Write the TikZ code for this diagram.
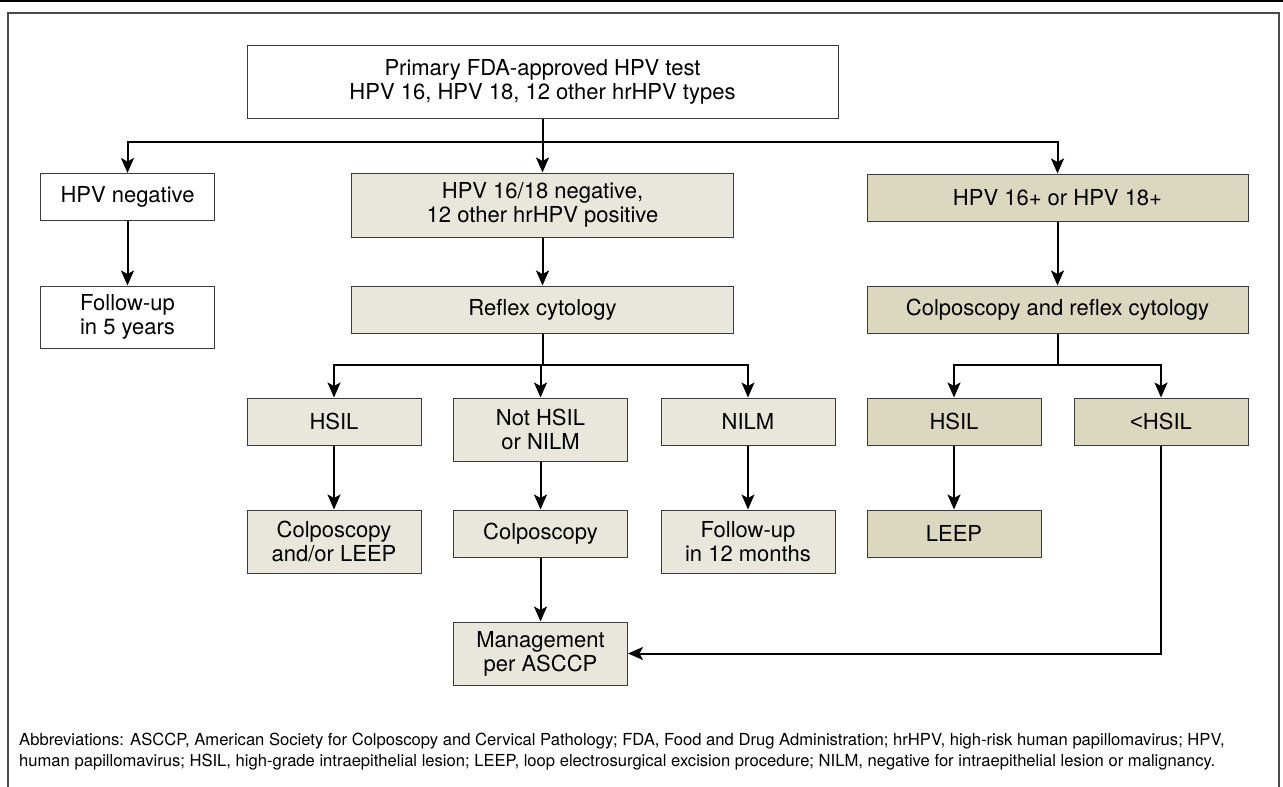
\documentclass[tikz,border=0pt]{standalone}
\usepackage{fontspec}
\setmainfont{TeX Gyre Heros}
\newfontfamily\symfont{Liberation Sans}
\usetikzlibrary{arrows.meta}
\definecolor{lightfill}{HTML}{E9E7DB}
\definecolor{darkfill}{HTML}{DCD7BF}
\definecolor{edgegray}{HTML}{3A3A3A}
\definecolor{framegray}{HTML}{4A4A4A}
\begin{document}
\begin{tikzpicture}[x=1pt,y=-1pt,
  box/.style={draw=edgegray, line width=1pt, align=center, inner sep=0pt,
    minimum width=174pt, minimum height=47pt, font=\fontsize{22}{24}\selectfont},
  wbox/.style={box, fill=white},
  lbox/.style={box, fill=lightfill},
  dbox/.style={box, fill=darkfill},
  ln/.style={line width=2pt},
  arr/.style={line width=2pt, -{Stealth[length=15pt,width=13pt,inset=3.5pt]}},
  note/.style={anchor=base west, inner sep=0pt, font=\fontsize{16.6}{18}\selectfont}]
\useasboundingbox (0,0) rectangle (1283,787);
% frame
\draw[line width=1.5pt] (0,0.75) -- (1283,0.75);
\draw[draw=framegray, line width=1.3pt] (8,787) -- (8,13) -- (1279,13) -- (1279,787);
% nodes
\node[wbox, minimum width=591pt, minimum height=73pt] (top) at (542.5,81.5) {Primary FDA-approved HPV test\\HPV 16, HPV 18, 12 other hrHPV types};
\node[wbox] (neg) at (127.5,197) {HPV negative};
\node[wbox, minimum height=62pt] (fu5) at (127.5,317) {Follow-up\\in 5 years};
\node[lbox, minimum width=382pt, minimum height=64pt] (mid) at (542.5,205) {HPV 16/18 negative,\\12 other hrHPV positive};
\node[lbox, minimum width=382pt] (reflex) at (542.5,309.5) {Reflex cytology};
\node[dbox, minimum width=381pt] (pos) at (1057.5,197.5) {HPV 16+ or HPV 18+};
\node[dbox, minimum width=381pt] (colpo) at (1057.5,309.5) {Colposcopy and reflex cytology};
\node[lbox] (hsil1) at (334,421.5) {HSIL};
\node[lbox, minimum height=63pt] (nothsil) at (540.5,429.5) {Not HSIL\\or NILM};
\node[lbox] (nilm) at (748,421.5) {NILM};
\node[lbox, minimum height=63pt] (cl1) at (334,541.5) {Colposcopy\\and/or LEEP};
\node[lbox] (cl2) at (540.5,533.5) {Colposcopy};
\node[lbox, minimum height=63pt] (fu12) at (748,541.5) {Follow-up\\in 12 months};
\node[lbox, minimum height=63pt] (mgmt) at (540.5,653.5) {Management\\per ASCCP};
\node[dbox] (hsil2) at (954,421.5) {HSIL};
\node[dbox] (leep) at (954,533.5) {LEEP};
\node[dbox] (lhsil) at (1161,421.5) {{\symfont <}HSIL};
% connectors
\draw[ln] (top.south) -- ++(0,23.5) coordinate (bus1);
\draw[arr] (bus1) -| (neg.north);
\draw[arr] (bus1) -- (mid.north);
\draw[arr] (bus1) -| (pos.north);
\draw[arr] (neg) -- (fu5);
\draw[arr] (mid) -- (reflex);
\draw[arr] (pos) -- (colpo);
\draw[ln] (reflex.south) -- ++(0,31.5) coordinate (bus2);
\draw[arr] (bus2) -| (hsil1.north);
\draw[arr] (bus2) -| (nothsil.north);
\draw[arr] (bus2) -| (nilm.north);
\draw[ln] (colpo.south) -- ++(0,31.5) coordinate (bus3);
\draw[arr] (bus3) -| (hsil2.north);
\draw[arr] (bus3) -| (lhsil.north);
\draw[arr] (hsil1) -- (cl1);
\draw[arr] (nothsil) -- (cl2);
\draw[arr] (nilm) -- (fu12);
\draw[arr] (cl2) -- (mgmt);
\draw[arr] (hsil2) -- (leep);
\draw[arr] (lhsil.south) |- (mgmt.east);
% footnote
\node[note] (fn1) at (19,745) {Abbreviations: ASCCP, American Society for Colposcopy and Cervical Pathology; FDA, Food and Drug Administration; hrHPV, high-risk human papillomavirus; HPV,};
\node[note] (fn2) at (19,766) {human papillomavirus; HSIL, high-grade intraepithelial lesion; LEEP, loop electrosurgical excision procedure; NILM, negative for intraepithelial lesion or malignancy.};
\end{tikzpicture}
\end{document}
